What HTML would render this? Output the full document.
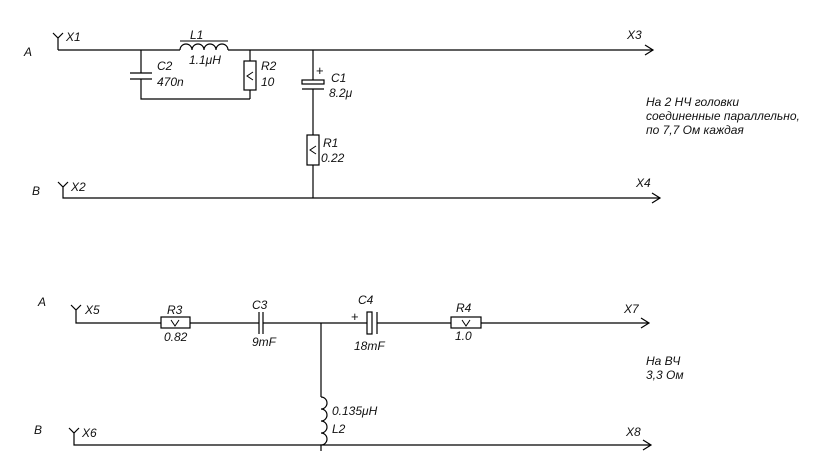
<!DOCTYPE html>
<html><head><meta charset="utf-8"><style>
html,body{margin:0;padding:0;background:#fff;}
svg{display:block;}
text{font-family:"Liberation Sans",sans-serif;font-style:italic;font-size:12px;fill:#111;}
</style></head><body>
<svg width="831" height="475" viewBox="0 0 831 475" xmlns="http://www.w3.org/2000/svg">
<g stroke="#000" stroke-width="1.2" fill="none">
<path d="M53,33 L58,38 L63,33 M58,38 L58,50"/>
<path d="M58,50 L180,50"/>
<path d="M180,50 a6,6 0 0 1 12,0 a6,6 0 0 1 12,0 a6,6 0 0 1 12,0 a6,6 0 0 1 12,0"/>
<path d="M180,41 L228,41" stroke-width="1"/>
<path d="M228,50 L653,50"/>
<path d="M645,45 L653,50 L645,55"/>
<path d="M141,50 L141,73 M130,73 L152,73 M130,79 L152,79 M141,79 L141,99 L250,99"/>
<path d="M250,50 L250,61 M250,90 L250,99"/>
<rect x="244" y="61" width="12" height="29"/>
<path d="M253,72 L247,76 L253,80" stroke-width="1"/>
<path d="M313,50 L313,80"/>
<rect x="302" y="80" width="22" height="4"/>
<path d="M302,89 L324,89 M313,89 L313,135 M313,165 L313,198"/>
<rect x="307" y="135" width="12" height="30"/>
<path d="M316,146 L310,150 L316,154" stroke-width="1"/>
<path d="M58,182 L63,187 L68,182 M63,187 L63,198 L660,198"/>
<path d="M652,193 L660,198 L652,203"/>
<path d="M71,305 L76,310 L81,305 M76,310 L76,323 L161,323"/>
<rect x="161" y="317" width="29" height="11"/>
<path d="M171,320 L175,326 L179,320" stroke-width="1"/>
<path d="M190,323 L259,323 M259,312 L259,334 M263,312 L263,334 M263,323 L367,323"/>
<rect x="367" y="312" width="5" height="22"/>
<path d="M377,312 L377,334 M377,323 L451,323"/>
<rect x="451" y="317" width="30" height="11"/>
<path d="M462,320 L466,326 L470,320" stroke-width="1"/>
<path d="M481,323 L649,323 M641,318 L649,323 L641,328"/>
<path d="M321,323 L321,397"/>
<path d="M321,397 a6,6 0 0 1 0,12 a6,6 0 0 1 0,12 a6,6 0 0 1 0,12 a6,6 0 0 1 0,12 L321,451"/>
<path d="M69,428 L74,433 L79,428 M74,433 L74,445 L651,445 M643,440 L651,445 L643,450"/>
</g>
<text x="316" y="75" style="font-style:normal;font-size:13px">+</text>
<text x="351" y="321" style="font-style:normal;font-size:13px">+</text>

<text x="24" y="56">A</text>
<text x="66" y="41">X1</text>
<text x="190" y="39">L1</text>
<text x="189" y="64">1.1μH</text>
<text x="157" y="70">C2</text>
<text x="157" y="86">470n</text>
<text x="261" y="70">R2</text>
<text x="261" y="86">10</text>
<text x="331" y="82">C1</text>
<text x="329" y="97">8.2μ</text>
<text x="323" y="147">R1</text>
<text x="321" y="162">0.22</text>
<text x="32" y="195">B</text>
<text x="71" y="191">X2</text>
<text x="627" y="39">X3</text>
<text x="636" y="187">X4</text>
<text x="646" y="106">На 2 НЧ головки</text>
<text x="646" y="120">соединенные параллельно,</text>
<text x="646" y="134">по 7,7 Ом каждая</text>

<text x="38" y="306">A</text>
<text x="85" y="314">X5</text>
<text x="167" y="314">R3</text>
<text x="164" y="341">0.82</text>
<text x="252" y="309">C3</text>
<text x="252" y="346">9mF</text>
<text x="358" y="304">C4</text>
<text x="354" y="350">18mF</text>
<text x="456" y="312">R4</text>
<text x="455" y="340">1.0</text>
<text x="624" y="313">X7</text>
<text x="646" y="365">На ВЧ</text>
<text x="646" y="379">3,3 Ом</text>
<text x="332" y="415">0.135μH</text>
<text x="332" y="433">L2</text>
<text x="34" y="434">B</text>
<text x="82" y="437">X6</text>
<text x="626" y="436">X8</text>
</svg>
</body></html>
